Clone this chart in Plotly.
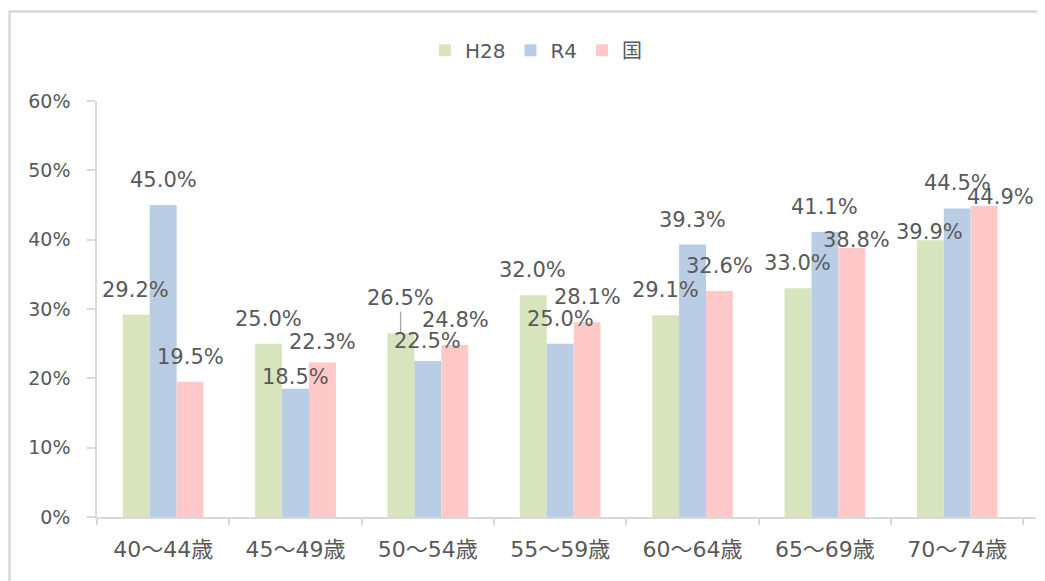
import plotly.graph_objects as go

categories = ["40～44歳", "45～49歳", "50～54歳", "55～59歳", "60～64歳", "65～69歳", "70～74歳"]
h28 = [29.2, 25.0, 26.5, 32.0, 29.1, 33.0, 39.9]
r4 = [45.0, 18.5, 22.5, 25.0, 39.3, 41.1, 44.5]
kuni = [19.5, 22.3, 24.8, 28.1, 32.6, 38.8, 44.9]
series_names = ["H28", "R4", "国"]
y_ticks = [0, 10, 20, 30, 40, 50, 60]
y_tick_labels = ["0%", "10%", "20%", "30%", "40%", "50%", "60%"]

series_values = [h28, r4, kuni]
colors = ["#d7e4bd", "#b9cde5", "#ffc9c9"]
text_color = "#595959"
font_family = "DejaVu Sans, Noto Sans CJK JP, sans-serif"

# page has an 8px body margin; margins compensate for it
W, H = 1045, 581
M = dict(l=89, r=17, t=93, b=72, autoexpand=False)
bargap = 0.39

# label offsets (pixels sideways, pixels above bar top), default 25 up
label_nudge = {
    (1, 1): (0, 12),
    (2, 1): (0, 20),
    (1, 2): (0, 20),
    (2, 5): (4, 8),
    (0, 6): (0, 8),
    (2, 6): (16, 9),
}
leader = {(0, 2): 35}

fig = go.Figure()
for name, vals, col in zip(series_names, series_values, colors):
    fig.add_trace(go.Bar(name=name, x=categories, y=vals, marker=dict(color=col, line=dict(width=0))))

plot_w = W - M["l"] - M["r"]
plot_h = H - M["t"] - M["b"]
bar_px = plot_w / len(categories) * (1 - bargap) / len(series_names)

annotations = []
for k, vals in enumerate(series_values):
    for i, v in enumerate(vals):
        base_dx = (k - 1) * bar_px
        txt = f"{v:.1f}%"
        if (k, i) in leader:
            annotations.append(dict(
                x=categories[i], y=v, xref="x", yref="y", text=txt,
                showarrow=True, arrowhead=0, arrowwidth=1.3, arrowcolor="#a6a6a6",
                ax=0, ay=-leader[(k, i)], standoff=1, xshift=base_dx,
                font=dict(size=21, color=text_color, family=font_family),
            ))
            continue
        dx, dy = label_nudge.get((k, i), (0, 25))
        annotations.append(dict(
            x=categories[i], y=v, xref="x", yref="y", text=txt, showarrow=False,
            xshift=base_dx + dx, yshift=dy, xanchor="center", yanchor="middle",
            font=dict(size=21, color=text_color, family=font_family),
        ))

border_left_px, border_top_px = 1.5, 3.5
fig.update_layout(
    width=W, height=H, margin=M,
    paper_bgcolor="white", plot_bgcolor="white",
    barmode="group", bargap=bargap, bargroupgap=0,
    font=dict(family=font_family, color=text_color),
    legend=dict(orientation="h", x=0.468, xanchor="center", y=1.122, yanchor="middle",
                font=dict(size=20, color=text_color, family=font_family),
                itemwidth=30, traceorder="normal"),
    annotations=annotations,
    shapes=[dict(type="rect", xref="paper", yref="paper",
                 x0=(border_left_px - M["l"]) / plot_w, x1=1.2,
                 y0=-0.4, y1=(H - M["b"] - border_top_px) / plot_h,
                 line=dict(color="#d9d9d9", width=2.5), fillcolor="rgba(0,0,0,0)", layer="below")],
)
fig.update_yaxes(range=[0, 60], tickvals=y_ticks, ticktext=y_tick_labels, showgrid=False, zeroline=False,
                 showline=True, linecolor="#d9d9d9", linewidth=1.5,
                 ticks="outside", ticklen=8, tickcolor="#d9d9d9", tickwidth=1.5,
                 ticklabelstandoff=13,
                 tickfont=dict(size=19, color=text_color, family=font_family))
fig.update_xaxes(showgrid=False, showline=True, linecolor="#d9d9d9", linewidth=1.5,
                 ticks="outside", tickson="boundaries", ticklen=6, tickcolor="#d9d9d9", tickwidth=1.5,
                 ticklabelstandoff=12,
                 tickfont=dict(size=22, color=text_color, family=font_family))

fig.write_html("out.html")
